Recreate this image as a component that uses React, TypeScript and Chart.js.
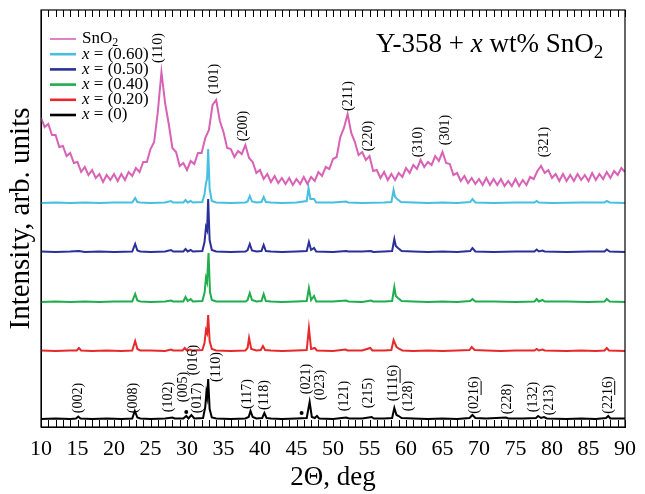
import { useEffect, useRef } from "react";
import { Chart, registerables } from "chart.js";

Chart.register(...registerables);

// ---------- data ----------
const X_MIN = 10;
const X_MAX = 90;
const X_STEP = 5;

// SnO2 pattern, sampled every 0.5 deg from 10 deg (arb. units)
const SNO2_START = 10;
const SNO2_STEP = 0.5;
const SNO2_VALUES = [
  309, 300, 303, 292, 292, 280, 281, 271, 274, 264, 265, 255, 260, 252, 257, 249, 253, 245, 252, 247,
  253, 246, 253, 247, 255, 251, 259, 255, 265, 265, 278, 285, 315, 355, 324, 303, 279, 275, 261, 264,
  257, 266, 263, 274, 274, 289, 297, 322, 327, 306, 295, 279, 278, 270, 276, 273, 282, 269, 265, 254,
  257, 248, 253, 245, 251, 244, 249, 243, 249, 242, 248, 243, 250, 243, 250, 246, 255, 251, 260, 258,
  268, 270, 290, 299, 313, 294, 285, 272, 275, 267, 271, 256, 257, 249, 255, 247, 253, 247, 254, 250,
  259, 254, 262, 258, 267, 260, 265, 262, 271, 266, 275, 264, 263, 252, 254, 246, 251, 244, 249, 243,
  248, 242, 249, 242, 248, 242, 248, 241, 246, 241, 248, 241, 247, 242, 250, 248, 256, 261, 254, 257,
  249, 253, 246, 253, 246, 252, 246, 253, 247, 252, 246, 254, 247, 253, 248, 255, 249, 256, 252, 259,
  255,
];

// Y-358 + x wt% SnO2 patterns: [2theta, intensity above own baseline]
const X060_POINTS: [number, number][] = [
  [10, 0], [12, 0.5], [14, 0], [16, 0.5], [18, 0], [20, 0.5], [22.5, 0.5], [22.9, 5], [23.2, 1], [23.6, 0.5],
  [25, 0], [27, 0.5], [27.8, 2], [28.1, 0.5], [29.5, 0.5], [29.8, 3], [30.1, 0.5], [30.5, 2], [30.8, 0.5],
  [32.1, 1], [32.4, 9], [32.6, 20], [32.75, 24], [32.9, 54], [33.1, 14], [33.4, 2], [34, 0.5], [36, 0],
  [38, 0.5], [38.3, 1.5], [38.6, 7], [38.9, 1.5], [39.5, 0.5], [40.2, 1], [40.5, 6], [40.8, 1], [41.5, 0.5],
  [43, 0], [45, 0.5], [46.4, 2], [46.65, 15], [46.9, 4], [47.4, 4], [47.7, 0.5], [50, 0.5], [51.8, 1.5],
  [52.1, 0.5], [54, 0], [57, 0.5], [58.0, 1], [58.3, 13], [58.5, 6], [58.8, 4], [59.3, 1], [61, 0.5],
  [63, 0], [65, 0.5], [67, 0], [68.8, 1], [69.1, 4], [69.5, 0.5], [72, 0], [75, 0.5], [77.6, 0.5],
  [77.9, 2], [78.2, 0.5], [80, 0], [84, 0.5], [87.2, 0.5], [87.5, 2], [87.9, 0.5], [90, 0],
];
const X050_POINTS: [number, number][] = [
  [10, 0.5], [12, 0], [14, 0.5], [15.2, 1], [16, 0], [18, 0.5], [20, 0], [22.5, 0.5], [22.9, 8], [23.2, 1.5],
  [23.6, 0.5], [25, 0], [27, 0.5], [27.8, 2], [28.1, 0.5], [29.5, 0.5], [29.8, 3], [30.1, 0.5], [30.5, 2],
  [30.8, 0.5], [32.1, 1], [32.4, 10], [32.6, 25], [32.75, 22], [32.9, 53], [33.1, 12], [33.4, 2], [34, 0.5],
  [36, 0], [38, 0.5], [38.3, 2], [38.6, 8], [38.9, 1.5], [39.5, 0.5], [40.2, 1], [40.5, 7], [40.8, 1],
  [41.5, 0.5], [43, 0], [45, 0.5], [46.4, 1], [46.7, 10], [47, 2], [47.4, 4], [47.7, 0.5], [50, 0],
  [51.8, 1], [52.1, 0.5], [54, 0.5], [55.2, 1], [55.5, 0], [57, 0.5], [58.1, 1], [58.4, 13], [58.6, 6],
  [58.9, 4], [59.4, 1], [61, 0.5], [63, 0], [65, 0.5], [67, 0], [68.8, 1], [69.1, 4], [69.5, 0.5], [72, 0],
  [75, 0.5], [77.6, 0.5], [77.9, 2.5], [78.2, 0.5], [78.7, 1.5], [79, 0.5], [82, 0], [85, 0.5],
  [87.2, 0.5], [87.5, 2.5], [87.9, 0.5], [90, 0],
];
const X040_POINTS: [number, number][] = [
  [10, 0], [12, 0.5], [14, 0], [16, 0.5], [18, 0], [20, 0.5], [22.5, 0.5], [22.9, 8], [23.2, 1.5], [23.6, 0.5],
  [25, 0], [27, 0.5], [27.8, 1.5], [28.1, 0.5], [29.5, 0.5], [29.8, 5], [30.1, 1], [30.5, 3], [30.8, 0.5],
  [32.1, 1], [32.4, 9], [32.6, 24], [32.75, 20], [32.95, 49], [33.15, 10], [33.4, 2], [34, 0.5], [36, 0.5],
  [38, 0.5], [38.3, 2], [38.6, 9], [38.9, 2], [39.5, 0.5], [40.2, 1], [40.5, 8], [40.8, 1], [41.5, 0.5],
  [43, 0], [45, 0.5], [46.4, 1], [46.7, 14], [47, 2], [47.4, 6], [47.7, 0.5], [50, 0.5], [51.8, 1.5],
  [52.1, 0.5], [54, 0], [55.2, 1.5], [55.5, 0.5], [57, 0.5], [58.1, 1], [58.4, 15], [58.6, 6], [58.9, 4],
  [59.4, 1], [61, 0.5], [63, 0], [65, 0.5], [67, 0], [68.8, 1], [69.1, 3], [69.5, 0.5], [72, 0.5], [75, 0],
  [77.6, 0.5], [77.9, 3], [78.2, 0.5], [78.7, 2], [79, 0.5], [82, 0.5], [85, 0], [87.2, 0.5], [87.5, 3],
  [87.9, 0.5], [90, 0],
];
const X020_POINTS: [number, number][] = [
  [10, 0.5], [12, 0], [14, 0.5], [14.9, 0.5], [15.2, 3], [15.5, 0.5], [17, 0], [19, 0.5], [21, 0], [22.5, 0.5],
  [22.9, 10], [23.2, 2], [23.6, 0.5], [25, 0.5], [27, 0], [27.8, 1.5], [28.1, 0.5], [29.4, 0.5], [29.7, 3],
  [30, 0.5], [30.4, 1.5], [30.7, 0.5], [32.1, 1], [32.4, 8], [32.6, 21], [32.75, 18], [32.9, 36], [33.1, 10],
  [33.4, 2], [34, 0.5], [36, 0], [38, 0.5], [38.3, 3], [38.5, 13], [38.8, 2], [39.5, 0.5], [40.1, 1],
  [40.4, 5], [40.7, 1], [41.5, 0.5], [43, 0], [45, 0.5], [46.4, 1], [46.7, 23], [47, 2], [47.5, 3],
  [47.8, 0.5], [50, 0], [51.7, 1.5], [52, 0.5], [54, 0.5], [55.1, 3], [55.4, 0.5], [57, 0.5], [58, 1],
  [58.3, 11], [58.7, 4], [59.1, 2], [59.5, 0.5], [61, 0], [63, 0.5], [65, 0], [67, 0.5], [68.7, 1], [69, 4],
  [69.4, 1], [71, 0.5], [73, 0], [75, 0.5], [77.6, 0.5], [77.9, 2], [78.2, 0.5], [78.7, 1.5], [79, 0.5],
  [82, 0], [84, 0.5], [86, 0], [87.2, 0.5], [87.5, 3], [87.8, 0.5], [90, 0],
];
const X000_POINTS: [number, number][] = [
  [10, 0], [12, 0.5], [14, 0], [14.8, 0.5], [15.1, 2.5], [15.4, 0.5], [17, 0], [19, 0.5], [21, 0], [22.5, 0.5],
  [22.85, 8], [23.2, 1.5], [23.6, 0.5], [25, 0], [27, 0.5], [28, 1.5], [28.3, 0.5], [29.5, 0.5], [29.9, 3],
  [30.2, 0.5], [30.6, 4], [31, 0.5], [32.2, 1], [32.5, 12], [32.65, 26], [32.75, 22], [32.9, 40], [33.1, 10],
  [33.4, 1.5], [34, 0.5], [36, 0], [38, 0.5], [38.45, 2], [38.7, 8], [39, 2], [39.5, 0.5], [40.3, 1],
  [40.6, 6], [40.9, 1], [41.5, 0.5], [43, 0], [45, 0.5], [46.4, 1], [46.8, 17], [47.1, 2], [47.5, 1],
  [47.8, 3], [48.1, 0.5], [50, 0], [51.8, 1.5], [52.2, 0.5], [54, 0.5], [55.3, 2], [55.6, 0.5], [57, 0.5],
  [58.1, 1], [58.4, 11], [58.7, 4], [59.0, 3], [59.4, 1], [61, 0.5], [63, 0], [65, 0.5], [67, 0], [68.7, 1],
  [69.1, 4], [69.5, 1], [71, 0.5], [73.7, 1.5], [74, 0.5], [76, 0.5], [77.8, 1], [78.1, 3], [78.5, 1],
  [78.9, 2], [79.3, 0.5], [82, 0], [84, 0.5], [86, 0], [87.4, 1], [87.7, 3], [88, 0.5], [90, 0.5],
];

// vertical stacking offsets of the patterns (arb. units)
const X060_OFFSET = 224;
const X050_OFFSET = 175;
const X040_OFFSET = 125;
const X020_OFFSET = 76;
const X000_OFFSET = 8;

const SERIES_NAMES = ["SnO2", "x = (0.60)", "x = (0.50)", "x = (0.40)", "x = (0.20)", "x = (0)"];
const SERIES_COLORS = ["#d862b6", "#46bfe0", "#2b2f98", "#20ad4c", "#e8292c", "#000000"];

// Miller-index annotations: [text, 2theta, y]
const SNO2_LABELS: [string, number, number][] = [
  ["(110)", 26.1, 379], ["(101)", 33.8, 348], ["(200)", 37.75, 301], ["(211)", 52.1, 331],
  ["(220)", 54.9, 291], ["(310)", 61.7, 285], ["(301)", 65.4, 297], ["(321)", 79.0, 285],
];
const Y358_LABELS: [string, number, number][] = [
  ["(002)", 15.1, 29], ["(008)", 22.7, 29], ["(102)", 27.5, 30], ["(005)", 29.5, 40], ["(017)", 31.4, 29],
  ["(016)", 30.85, 67], ["(110)", 34.0, 60], ["(117)", 38.3, 33], ["(118)", 40.6, 32], ["(021)", 46.4, 48],
  ["(023)", 48.2, 42], ["(121)", 51.6, 31], ["(215)", 54.9, 34], ["(1116)", 58.3, 44], ["(128)", 60.35, 31],
  ["(0216)", 69.4, 32], ["(228)", 73.9, 28], ["(132)", 77.5, 30], ["(213)", 79.6, 27], ["(2216)", 87.7, 32],
];
// impurity markers (2theta, y)
const DOT_MARKS: [number, number][] = [[29.9, 15], [45.7, 14]];

const SERIF = "'Liberation Serif', 'Times New Roman', serif";

const overlay = {
  id: "overlay",
  afterDraw(chart: any) {
    const { ctx, chartArea: a, scales } = chart;
    const xs = scales.x;
    const ys = scales.y;
    ctx.save();
    // frame
    ctx.strokeStyle = "#000";
    ctx.lineWidth = 1.2;
    ctx.strokeRect(a.left, a.top, a.right - a.left, a.bottom - a.top);
    // inside ticks every 1 degree
    ctx.lineWidth = 1;
    ctx.beginPath();
    for (let d = X_MIN; d <= X_MAX; d += 1) {
      const px = Math.round(xs.getPixelForValue(d)) + 0.5;
      ctx.moveTo(px, a.bottom);
      ctx.lineTo(px, a.bottom - 7);
      ctx.moveTo(px, a.top);
      ctx.lineTo(px, a.top + 7);
    }
    ctx.stroke();

    // legend
    ctx.textBaseline = "middle";
    ctx.textAlign = "left";
    SERIES_NAMES.forEach((name, i) => {
      const y = a.top + 29 + i * 15.2;
      ctx.strokeStyle = SERIES_COLORS[i];
      ctx.lineWidth = i === 0 ? 1.6 : 2.6;
      ctx.beginPath();
      ctx.moveTo(a.left + 9, y);
      ctx.lineTo(a.left + 35, y);
      ctx.stroke();
      ctx.fillStyle = "#000";
      let x = a.left + 41;
      if (i === 0) {
        ctx.font = `17px ${SERIF}`;
        ctx.fillText("SnO", x, y);
        x += ctx.measureText("SnO").width;
        ctx.font = `12px ${SERIF}`;
        ctx.fillText("2", x, y + 4);
      } else {
        ctx.font = `italic 17px ${SERIF}`;
        ctx.fillText("x", x, y);
        x += ctx.measureText("x").width;
        ctx.font = `17px ${SERIF}`;
        ctx.fillText(name.slice(1), x, y);
      }
    });

    // title
    ctx.textBaseline = "alphabetic";
    let tx = a.right - 249;
    const ty = a.top + 42;
    const parts: [string, string][] = [
      ["Y-358 + ", `27px ${SERIF}`],
      ["x", `italic 27px ${SERIF}`],
      [" wt% SnO", `27px ${SERIF}`],
    ];
    parts.forEach(([t, f]) => {
      ctx.font = f;
      ctx.fillText(t, tx, ty);
      tx += ctx.measureText(t).width;
    });
    ctx.font = `19px ${SERIF}`;
    ctx.fillText("2", tx, ty + 6);

    // rotated Miller labels
    const drawLabel = (text: string, d: number, v: number) => {
      const px = xs.getPixelForValue(d);
      const py = ys.getPixelForValue(v);
      ctx.save();
      ctx.translate(px, py);
      ctx.rotate(-Math.PI / 2);
      ctx.font = `14px ${SERIF}`;
      ctx.textAlign = "left";
      ctx.textBaseline = "middle";
      const w = ctx.measureText(text).width;
      ctx.fillStyle = "#000";
      ctx.fillText(text, -w / 2, 0);
      if (text.length === 6) {
        const pre = ctx.measureText(text.slice(0, 3)).width;
        const mid = ctx.measureText(text.slice(3, 5)).width;
        ctx.lineWidth = 1;
        ctx.strokeStyle = "#000";
        ctx.beginPath();
        ctx.moveTo(-w / 2 + pre, 6.5);
        ctx.lineTo(-w / 2 + pre + mid, 6.5);
        ctx.stroke();
      }
      ctx.restore();
    };
    SNO2_LABELS.forEach(([t, d, v]) => drawLabel(t, d, v));
    Y358_LABELS.forEach(([t, d, v]) => drawLabel(t, d, v));

    // impurity dots
    ctx.fillStyle = "#000";
    DOT_MARKS.forEach(([d, v]) => {
      ctx.beginPath();
      ctx.arc(xs.getPixelForValue(d), ys.getPixelForValue(v), 2, 0, Math.PI * 2);
      ctx.fill();
    });
    ctx.restore();
  },
};

export default function App() {
  const ref = useRef<HTMLCanvasElement | null>(null);
  useEffect(() => {
    if (!ref.current) return;
    const shift = (pts: [number, number][], off: number) => pts.map(([x, y]) => ({ x, y: off + y }));
    const sno2 = SNO2_VALUES.map((v, i) => ({ x: SNO2_START + i * SNO2_STEP, y: v }));
    const all = [
      sno2,
      shift(X060_POINTS, X060_OFFSET),
      shift(X050_POINTS, X050_OFFSET),
      shift(X040_POINTS, X040_OFFSET),
      shift(X020_POINTS, X020_OFFSET),
      shift(X000_POINTS, X000_OFFSET),
    ];
    const chart = new Chart(ref.current, {
      type: "line",
      data: {
        datasets: all.map((data, i) => ({
          label: SERIES_NAMES[i],
          data,
          borderColor: SERIES_COLORS[i],
          borderWidth: i === 0 ? 2 : 2,
          pointRadius: 0,
          tension: 0,
          fill: false,
          order: 5 - i,
        })),
      },
      options: {
        animation: false,
        responsive: false,
        devicePixelRatio: 1,
        layout: { padding: { left: 0, right: 13, top: 10, bottom: 0 } },
        plugins: { legend: { display: false }, tooltip: { enabled: false } },
        scales: {
          x: {
            type: "linear",
            min: X_MIN,
            max: X_MAX,
            ticks: {
              stepSize: X_STEP,
              autoSkip: false,
              maxRotation: 0,
              color: "#000",
              padding: 9,
              font: { family: SERIF, size: 22 },
            },
            grid: { display: false, drawTicks: false },
            border: { display: true, color: "#000" },
            title: {
              display: true,
              text: "2Θ, deg",
              color: "#000",
              font: { family: SERIF, size: 27 },
              padding: { top: 0, bottom: 0 },
            },
            afterFit: (s: any) => {
              s.height = 67;
            },
          },
          y: {
            min: 0,
            max: 417,
            ticks: { display: false },
            grid: { display: false, drawTicks: false },
            border: { display: true, color: "#000" },
            title: {
              display: true,
              text: "Intensity, arb. units",
              color: "#000",
              font: { family: SERIF, size: 29 },
              padding: { top: 4, bottom: 0 },
            },
            afterFit: (s: any) => {
              s.width = 41;
            },
          },
        },
      },
      plugins: [overlay],
    });
    return () => chart.destroy();
  }, []);
  return (
    <div style={{ position: "fixed", left: 0, top: 0, width: 645, height: 494, background: "#fff" }}>
      <canvas ref={ref} width={645} height={494} style={{ width: 645, height: 494 }} />
    </div>
  );
}
